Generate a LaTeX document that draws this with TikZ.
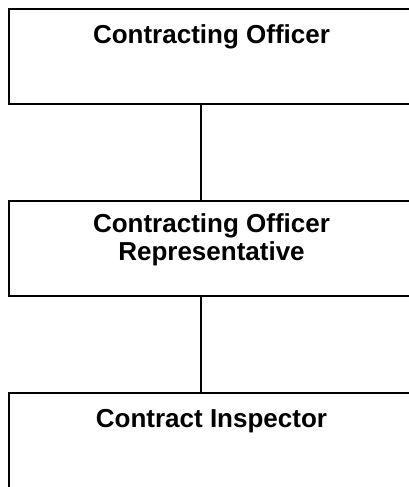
\documentclass[tikz,border=0pt]{standalone}
\usepackage{fontspec}
\setmainfont{Liberation Sans}
\begin{document}
\begin{tikzpicture}[x=1pt,y=-1pt,
  orgbox/.style={draw=black, line width=2pt, fill=none, rectangle, inner sep=0pt, anchor=north west},
  title/.style={font=\bfseries\fontsize{26}{29}\selectfont, anchor=base, inner sep=0pt, align=center},
  link/.style={draw=black, line width=2pt}]
  \useasboundingbox (0,0) rectangle (409,487);
  \clip (0,0) rectangle (409,487);
  % the three levels of the chain
  \node[orgbox, minimum width=408pt, minimum height=95pt] (officer) at (8,8) {};
  \node[orgbox, minimum width=408pt, minimum height=95pt] (rep) at (8,200) {};
  \node[orgbox, minimum width=408pt, minimum height=120pt] (inspector) at (8,392) {};
  % titles
  \node[title] (tOfficer) at (211.5,44) {Contracting Officer};
  \node[title] (tRep1) at (211.5,232) {Contracting Officer};
  \node[title] (tRep2) at (211.5,260) {Representative};
  \node[title] (tInspector) at (211.5,427) {Contract Inspector};
  % reporting lines
  \coordinate (spine) at (201,0);
  \draw[link] (officer.south -| spine) -- (rep.north -| spine);
  \draw[link] (rep.south -| spine) -- (inspector.north -| spine);
\end{tikzpicture}
\end{document}
